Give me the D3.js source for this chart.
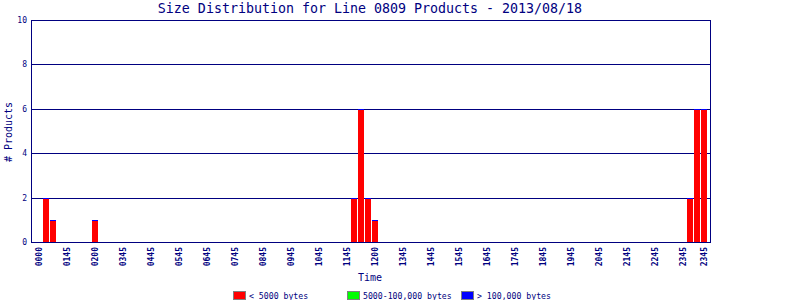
<!DOCTYPE html>
<html>
<head>
<meta charset="utf-8">
<script src="https://cdn.jsdelivr.net/npm/d3@7"></script>
<style>
  body { margin: 0; background: #fff; }
  svg text { font-family: "DejaVu Sans Mono", monospace; fill: #000080; }
  .tick text { font-weight: bold; }
</style>
</head>
<body>
<div id="chart"></div>
<script>
var svgWidth = 800;
var svgHeight = 300;

var margin = { top: 20, right: 90, bottom: 58, left: 31 };
var width = svgWidth - margin.left - margin.right;   // 679
var height = svgHeight - margin.top - margin.bottom; // 222

// 15-minute bins over one day
var binCount = 96;
var bins = d3.range(binCount);

// products per bin (only non-zero bins listed)
var smallBins = [1, 2, 8, 45, 46, 47, 48, 93, 94, 95];
var smallCounts = [2, 1, 1, 2, 6, 2, 1, 2, 6, 6];
var mediumCounts = [0, 0, 0, 0, 0, 0, 0, 0, 0, 0];
var largeCounts = [0, 0, 0, 0, 0, 0, 0, 0, 0, 0];

// tick labels as printed on the chart
var tickBins = [0, 4, 8, 12, 16, 20, 24, 28, 32, 36, 40, 44, 48, 52, 56, 60, 64, 68, 72, 76, 80, 84, 88, 92, 95];
var tickLabels = ["0000", "0145", "0200", "0345", "0445", "0545", "0645", "0745", "0845", "0945",
  "1045", "1145", "1200", "1345", "1445", "1545", "1645", "1745", "1845", "1945",
  "2045", "2145", "2245", "2345", "2345"];
var yTicks = [0, 2, 4, 6, 8, 10];

var seriesNames = ["< 5000 bytes", "5000-100,000 bytes", "> 100,000 bytes"];
var seriesColors = ["#ff0000", "#00ff00", "#0000ff"];

var navy = "#000080";

var data = smallBins.map(function(b, i) {
  return { bin: b, small: smallCounts[i], medium: mediumCounts[i], large: largeCounts[i] };
});

var svg = d3.select("#chart").append("svg")
  .attr("width", svgWidth)
  .attr("height", svgHeight)
  .attr("shape-rendering", "crispEdges");

var chartGroup = svg.append("g")
  .attr("transform", `translate(${margin.left}, ${margin.top})`);

var xScale = d3.scaleBand()
  .domain(bins)
  .range([0, width])
  .paddingInner(0)
  .paddingOuter(0.5)
  .align(5 / 7);

var yScale = d3.scaleLinear()
  .domain([0, 10])
  .range([height, 0]);

// gridlines
chartGroup.selectAll(".grid")
  .data(yTicks.filter(d => d > 0))
  .enter()
  .append("line")
  .attr("x1", 0).attr("x2", width)
  .attr("y1", d => Math.round(yScale(d)) + 0.5)
  .attr("y2", d => Math.round(yScale(d)) + 0.5)
  .attr("stroke", navy);

// stacked bars
var stack = d3.stack().keys(["small", "medium", "large"]);
var stacked = stack(data);

var bw = xScale.bandwidth() - 1;

chartGroup.selectAll(".layer")
  .data(stacked)
  .enter()
  .append("g")
  .attr("fill", (d, i) => seriesColors[i])
  .selectAll("rect")
  .data(d => d.filter(p => p[1] - p[0] > 0))
  .enter()
  .append("rect")
  .attr("x", d => Math.round(xScale(d.data.bin)))
  .attr("y", d => Math.round(yScale(d[1])))
  .attr("width", bw)
  .attr("height", d => Math.round(yScale(d[0])) - Math.round(yScale(d[1])));

// 1px blue cap drawn on top of every bar
chartGroup.selectAll(".cap")
  .data(data)
  .enter()
  .append("rect")
  .attr("x", d => Math.round(xScale(d.bin)))
  .attr("y", d => Math.round(yScale(d.small + d.medium + d.large)))
  .attr("width", bw)
  .attr("height", 1)
  .attr("fill", "#0000ff");

// frame
chartGroup.append("rect")
  .attr("x", 0.5).attr("y", 0.5)
  .attr("width", width).attr("height", height)
  .attr("fill", "none")
  .attr("stroke", navy);

// y axis labels
chartGroup.selectAll(".ytick")
  .data(yTicks)
  .enter()
  .append("text")
  .attr("class", "tick")
  .attr("x", -4)
  .attr("y", d => yScale(d) + 3)
  .attr("text-anchor", "end")
  .attr("font-size", "8px")
  .text(d => d);

// x axis labels (rotated)
chartGroup.selectAll(".xtick")
  .data(tickBins)
  .enter()
  .append("g")
  .attr("class", "tick")
  .attr("transform", d => `translate(${xScale(d) + xScale.bandwidth() / 2 + 2.5}, ${height + 5}) rotate(-90)`)
  .append("text")
  .attr("text-anchor", "end")
  .attr("font-size", "8px")
  .text((d, i) => tickLabels[i]);

// axis titles
svg.append("text")
  .attr("x", 370)
  .attr("y", 281)
  .attr("text-anchor", "middle")
  .attr("font-size", "10px")
  .text("Time");

svg.append("text")
  .attr("transform", "translate(12, 132) rotate(-90)")
  .attr("text-anchor", "middle")
  .attr("font-size", "10px")
  .text("# Products");

svg.append("text")
  .attr("x", 370)
  .attr("y", 13)
  .attr("text-anchor", "middle")
  .attr("font-size", "13.3px")
  .text("Size Distribution for Line 0809 Products - 2013/08/18");

// legend
var legendX = [233, 347, 461];
var legend = svg.selectAll(".legend")
  .data(seriesNames)
  .enter()
  .append("g")
  .attr("transform", (d, i) => `translate(${legendX[i]}, 291)`);

legend.append("rect")
  .attr("x", 0.5).attr("y", 0.5)
  .attr("width", 12).attr("height", 8)
  .attr("fill", (d, i) => seriesColors[i])
  .attr("stroke", "#808080");

legend.append("text")
  .attr("class", "tick")
  .attr("x", 16)
  .attr("y", 7.5)
  .attr("font-size", "8.2px")
  .text(d => d);
</script>
</body>
</html>
